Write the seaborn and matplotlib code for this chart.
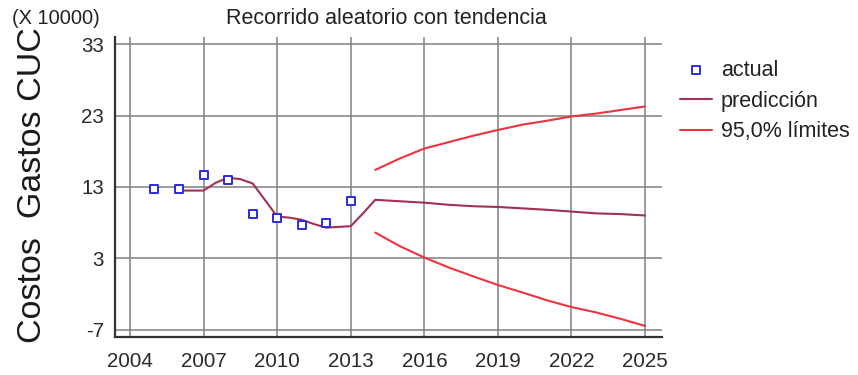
import numpy as np
import pandas as pd
import matplotlib
matplotlib.use("Agg")
import matplotlib.pyplot as plt
import seaborn as sns

# Observed annual costs (x 10000 CUC)
years_actual = [2005, 2006, 2007, 2008, 2009, 2010, 2011, 2012, 2013]
actual = [12.7, 12.7, 14.7, 14.0, 9.25, 8.7, 7.6, 7.9, 11.05]

# Random-walk-with-trend fitted values and forecasts
years_pred = [2006, 2007, 2007.5, 2008, 2008.5, 2009, 2009.5, 2010, 2010.5,
              2011, 2011.5, 2012, 2012.5, 2013, 2013.5, 2014, 2015, 2016,
              2017, 2018, 2019, 2020, 2021, 2022, 2023, 2024, 2025]
prediction = [12.5, 12.5, 13.6, 14.3, 14.1, 13.5, 11.2, 8.85, 8.7,
              8.4, 7.8, 7.3, 7.4, 7.5, 9.3, 11.2, 11.0, 10.8,
              10.5, 10.3, 10.2, 10.0, 9.8, 9.55, 9.3, 9.2, 9.0]

# 95% forecast limits
years_lim = [2014, 2015, 2016, 2017, 2018, 2019, 2020, 2021, 2022, 2023, 2024, 2025]
upper = [15.4, 17.0, 18.4, 19.3, 20.2, 21.0, 21.75, 22.3, 22.9, 23.3, 23.8, 24.3]
lower = [6.6, 4.7, 3.1, 1.7, 0.45, -0.75, -1.8, -2.9, -3.85, -4.6, -5.5, -6.5]

x_ticks = [2004, 2007, 2010, 2013, 2016, 2019, 2022, 2025]
y_ticks = [-7, 3, 13, 23, 33]

sns.set_theme(style="white")
plt.rcParams["font.family"] = ["Liberation Sans", "DejaVu Sans"]
plt.rcParams["axes.unicode_minus"] = False

df_actual = pd.DataFrame({"year": years_actual, "value": actual})
df_pred = pd.DataFrame({"year": years_pred, "value": prediction})
df_up = pd.DataFrame({"year": years_lim, "value": upper})
df_lo = pd.DataFrame({"year": years_lim, "value": lower})

fig = plt.figure(figsize=(8.58, 3.75), dpi=100)
ax = fig.add_axes([115 / 858, 38 / 375, 547 / 858, 300 / 375])

pred_color = "#a3304f"
lim_color = "#ec3440"
blue = "#2a2ae0"

sns.lineplot(data=df_pred, x="year", y="value", ax=ax, color=pred_color,
             lw=1.5, label="predicción", zorder=3)
sns.lineplot(data=df_up, x="year", y="value", ax=ax, color=lim_color,
             lw=1.5, label="95,0% límites", zorder=3)
sns.lineplot(data=df_lo, x="year", y="value", ax=ax, color=lim_color,
             lw=1.5, zorder=3)
sns.scatterplot(data=df_actual, x="year", y="value", ax=ax, marker="s",
                s=30, facecolor="white", edgecolor=blue, linewidth=1.4,
                label="actual", zorder=4)

ax.set_xlim(2003.39, 2025.69)
ax.set_ylim(-8.05, 34.05)
ax.set_xticks(x_ticks)
ax.set_yticks(y_ticks)
ax.set_xticks(np.arange(2004, 2026, 1), minor=True)
ax.set_yticks(np.arange(-7, 34, 2), minor=True)
ax.grid(True, which="major", color="#808080", lw=1.1)
ax.tick_params(which="both", direction="in", colors="#2a2a2a",
               labelsize=14.8, pad=8)
ax.tick_params(which="major", length=0)
ax.tick_params(axis="y", which="minor", length=4, width=1.2)
ax.tick_params(axis="x", which="minor", length=2.5, width=1.4)
ax.tick_params(axis="x", which="major", pad=11)
for side in ["top", "right"]:
    ax.spines[side].set_visible(False)
for side in ["left", "bottom"]:
    ax.spines[side].set_color("#333333")
    ax.spines[side].set_linewidth(1.6)

ax.set_xlabel("")
ax.set_ylabel("Costos  Gastos CUC", fontsize=24.5, color="#1a1a1a")
ax.yaxis.set_label_coords(-0.122, 0.505)

fig.text(386 / 858, 1 - 18 / 375, "Recorrido aleatorio con tendencia",
         ha="center", va="center", fontsize=15.5, color="#222222")
fig.text(12 / 858, 1 - 19 / 375, "(X 10000)", ha="left", va="center",
         fontsize=14.4, color="#222222")

handles, labels = ax.get_legend_handles_labels()
order = [labels.index(l) for l in ["actual", "predicción", "95,0% límites"]]
ax.legend([handles[i] for i in order], [labels[i] for i in order],
          loc="upper left", bbox_to_anchor=(680 / 858, 1 - 60 / 375),
          bbox_transform=fig.transFigure, frameon=False, fontsize=15.5,
          handlelength=1.5, handletextpad=0.4, labelspacing=0.45,
          borderpad=0, borderaxespad=0)
for t in ax.get_legend().get_texts():
    t.set_color("#222222")

fig.savefig("out.png", dpi=100)
